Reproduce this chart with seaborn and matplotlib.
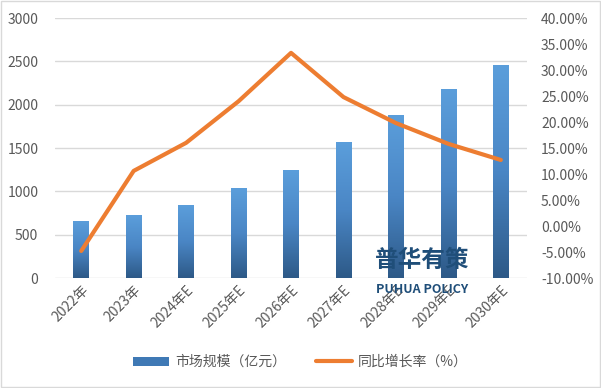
import numpy as np
import pandas as pd
import matplotlib
matplotlib.use("Agg")
import matplotlib.pyplot as plt
import seaborn as sns
from matplotlib.patches import Patch, Rectangle
from matplotlib.lines import Line2D
from matplotlib.colors import LinearSegmentedColormap

# 数据
years = ["2022年", "2023年", "2024年E", "2025年E", "2026年E",
         "2027年E", "2028年E", "2029年E", "2030年E"]
market_size = [658, 727, 842, 1038, 1246, 1569, 1880, 2181, 2458]
growth_rate = [-4.8, 10.6, 16.0, 24.0, 33.3, 24.8, 19.8, 15.8, 12.7]

df = pd.DataFrame({"year": years, "size": market_size, "rate": growth_rate})

sns.set_theme(style="white")
plt.rcParams["font.family"] = ["Noto Sans CJK SC", "DejaVu Sans"]

TXT = "#595959"
GRID = "#D9D9D9"
ORANGE = "#ED7D31"

fig = plt.figure(figsize=(6.01, 3.88), dpi=100)
ax = fig.add_axes([0.0915, 0.2835, 0.7855, 0.67])

sns.barplot(data=df, x="year", y="size", ax=ax, width=0.30, color="#4A86C5",
            saturation=1, zorder=2)

# 渐变填充
cmap = LinearSegmentedColormap.from_list("blu", ["#2D5987", "#4A86C5", "#5B9EDB"])
grad = np.linspace(0, 1, 256).reshape(-1, 1)
for p in ax.patches:
    x0, y0 = p.get_x(), p.get_y()
    w, h = p.get_width(), p.get_height()
    p.set_facecolor("none")
    p.set_edgecolor("none")
    im = ax.imshow(grad, extent=[x0, x0 + w, y0, y0 + h], origin="lower",
                   cmap=cmap, aspect="auto", zorder=2)
    im.set_clip_path(p)

ax.set_xlim(-0.5, len(years) - 0.5)
ax.set_ylim(0, 3000)
ax.set_yticks(range(0, 3001, 500))
ax.yaxis.grid(True, color=GRID, linewidth=1)
ax.set_axisbelow(True)
for s in ax.spines.values():
    s.set_visible(False)
ax.set_xlabel("")
ax.set_ylabel("")
ax.tick_params(axis="both", length=0, colors=TXT, labelsize=10)
ax.tick_params(axis="y", pad=12)
plt.setp(ax.get_xticklabels(), rotation=45, ha="right", rotation_mode="anchor")

ax2 = ax.twinx()
sns.lineplot(data=df, x="year", y="rate", ax=ax2, color=ORANGE, linewidth=3,
             sort=False, zorder=3)
ax2.set_ylim(-10, 40)
ax2.set_yticks(range(-10, 41, 5))
ax2.set_yticklabels([f"{v:.2f}%" for v in range(-10, 41, 5)])
ax2.set_ylabel("")
for s in ax2.spines.values():
    s.set_visible(False)
ax2.tick_params(axis="y", length=0, colors=TXT, labelsize=10, pad=10)

# 水印
fig.text(0.702, 0.33, "普华有策", fontsize=17, fontweight="bold",
         color="#1F4E79", ha="center", va="center")
fig.text(0.702, 0.255, "PUHUA POLICY", fontsize=9, fontweight="bold",
         color="#1F4E79", ha="center", va="center")

handles = [Patch(facecolor="#3F79B5", edgecolor="none"),
           Line2D([0], [0], color=ORANGE, linewidth=3)]
fig.legend(handles, ["市场规模（亿元）", "同比增长率（%）"], loc="center",
           bbox_to_anchor=(0.5, 0.067), ncol=2, frameon=False, fontsize=10,
           labelcolor=TXT, handlelength=2.6, handleheight=0.6,
           columnspacing=2.2, handletextpad=0.4)

fig.add_artist(Rectangle((0.002, 0.002), 0.996, 0.996, transform=fig.transFigure,
                         fill=False, edgecolor=GRID, linewidth=1))

fig.savefig("out.png", dpi=100)
